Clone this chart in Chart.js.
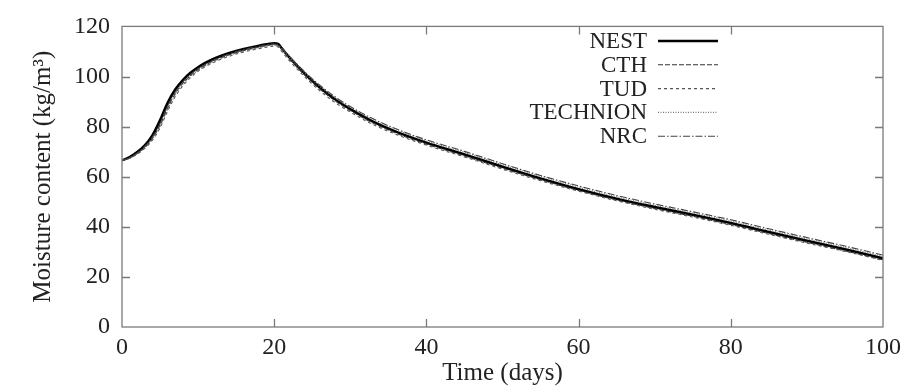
<!DOCTYPE html>
<html>
<head>
<meta charset="utf-8">
<script src="https://cdn.jsdelivr.net/npm/chart.js@4.4.1/dist/chart.umd.min.js"></script>
<style>
  html, body { margin: 0; padding: 0; background: #fff; }
  #wrap { width: 916px; height: 388px; }
</style>
</head>
<body>
<div id="wrap"><canvas id="c" width="916" height="388"></canvas></div>
<script>
// Time axis (days)
const days = [0,1,2,3,4,5,6,7,8,9,10,11,12,14,16,18,20,20.5,21,22,24,26,28,30,33,36,40,45,50,55,60,65,70,75,80,85,90,95,100];

// Moisture content (kg/m3) per model
const nest     = [66.5,67.8,69.8,72.5,76.5,82.5,89.5,94.8,98.6,101.5,103.7,105.5,107.0,109.3,111.0,112.3,113.3,113.0,111.2,107.6,101.2,95.6,90.9,87.0,82.0,78.0,73.6,68.9,64.0,59.3,55.0,51.2,47.9,44.8,41.5,37.9,34.4,31.0,27.4];
const cth      = [66.5,67.5,69.3,71.8,75.3,80.6,87.5,93.2,97.3,100.4,102.8,104.6,106.2,108.6,110.4,111.7,112.7,112.4,110.7,107.0,100.6,95.0,90.3,86.4,81.4,77.4,73.0,68.3,63.4,58.8,54.5,50.7,47.3,44.2,40.9,37.3,33.8,30.4,26.8];
const tud      = [66.5,67.3,69.0,71.3,74.6,79.5,86.2,92.0,96.3,99.6,102.1,104.0,105.6,108.0,109.8,111.1,112.1,111.8,110.0,106.3,99.9,94.3,89.6,85.8,80.8,76.9,72.6,67.9,63.0,58.4,54.2,50.4,47.0,43.9,40.6,37.0,33.5,30.2,26.6];
const technion = [66.5,67.4,69.2,71.6,75.0,80.0,86.8,92.6,96.8,100.0,102.4,104.3,105.9,108.3,110.2,111.5,112.5,112.3,110.8,107.6,101.5,96.1,91.5,87.6,82.7,78.7,74.3,69.7,64.8,60.1,55.8,52.0,48.6,45.5,42.3,38.7,35.2,31.8,28.2];
const nrc      = [66.5,67.6,69.5,72.1,75.8,81.2,88.2,93.8,97.8,100.8,103.1,104.9,106.5,108.9,110.7,112.0,113.0,112.8,111.3,108.0,101.9,96.5,91.9,88.0,83.1,79.1,74.7,70.1,65.2,60.5,56.3,52.5,49.1,46.0,42.8,39.2,35.7,32.3,28.7];

const xTicks = [0,20,40,60,80,100];
const yTicks = [0,20,40,60,80,100,120];

const FONT = "'Liberation Serif', 'Times New Roman', serif";
const TEXT = '#222';
const AXIS = '#7a7a7a';

const toXY = ys => days.map((d, i) => ({ x: d, y: ys[i] }));

const series = [
  { label: 'NEST',     data: nest,     color: '#000', width: 2.6, dash: [] },
  { label: 'CTH',      data: cth,      color: '#333', width: 1.1, dash: [5, 2] },
  { label: 'TUD',      data: tud,      color: '#555', width: 1.1, dash: [3, 3] },
  { label: 'TECHNION', data: technion, color: '#777', width: 1.1, dash: [1, 1.5] },
  { label: 'NRC',      data: nrc,      color: '#444', width: 1.1, dash: [7, 2, 1.5, 2] }
];

// Box around the plot with inward ticks on all four sides
const frame = {
  id: 'frame',
  afterDatasetsDraw(chart) {
    const { ctx, chartArea: a, scales: { x, y } } = chart;
    const len = 8;
    ctx.save();
    ctx.strokeStyle = AXIS;
    ctx.lineWidth = 1.3;
    ctx.strokeRect(a.left, a.top, a.right - a.left, a.bottom - a.top);
    ctx.beginPath();
    xTicks.slice(1, -1).forEach(v => {
      const px = Math.round(x.getPixelForValue(v)) + 0.5;
      ctx.moveTo(px, a.bottom); ctx.lineTo(px, a.bottom - len);
      ctx.moveTo(px, a.top);    ctx.lineTo(px, a.top + len);
    });
    yTicks.slice(1, -1).forEach(v => {
      const py = Math.round(y.getPixelForValue(v)) + 0.5;
      ctx.moveTo(a.left, py);  ctx.lineTo(a.left + len, py);
      ctx.moveTo(a.right, py); ctx.lineTo(a.right - len, py);
    });
    ctx.stroke();
    ctx.restore();
  }
};

// Key in the upper right: label right-aligned, line sample to its right
const key = {
  id: 'key',
  afterDatasetsDraw(chart) {
    const { ctx } = chart;
    const textRight = 647, lineL = 658, lineR = 718, top = 41, step = 23.8;
    ctx.save();
    ctx.font = '23px ' + FONT;
    ctx.fillStyle = TEXT;
    ctx.textAlign = 'right';
    ctx.textBaseline = 'middle';
    series.forEach((s, i) => {
      const ds = chart.data.datasets.find(d => d.label === s.label);
      const yy = top + i * step;
      ctx.fillText(ds.label, textRight, yy + 1);
      ctx.beginPath();
      ctx.strokeStyle = ds.borderColor;
      ctx.lineWidth = ds.borderWidth;
      ctx.setLineDash(ds.borderDash || []);
      ctx.moveTo(lineL, yy);
      ctx.lineTo(lineR, yy);
      ctx.stroke();
    });
    ctx.restore();
  }
};

new Chart(document.getElementById('c'), {
  type: 'line',
  data: {
    // thin model curves first, NEST drawn last so it sits on top
    datasets: series.slice().reverse().map(s => ({
      label: s.label,
      data: toXY(s.data),
      borderColor: s.color,
      borderWidth: s.width,
      borderDash: s.dash,
      pointRadius: 0,
      fill: false,
      cubicInterpolationMode: 'monotone'
    }))
  },
  options: {
    responsive: false,
    animation: false,
    layout: { padding: { top: 20, right: 33, left: 0, bottom: 0 } },
    plugins: { legend: { display: false }, tooltip: { enabled: false } },
    scales: {
      x: {
        type: 'linear',
        min: 0, max: 100,
        afterBuildTicks: s => { s.ticks = xTicks.map(v => ({ value: v })); },
        afterFit: s => { s.height = 61; },
        grid: { display: false, drawTicks: false },
        border: { display: false },
        ticks: { color: TEXT, padding: 6, font: { family: FONT, size: 24 } },
        title: { display: true, text: 'Time (days)', color: TEXT, padding: { top: 0, bottom: 0 }, font: { family: FONT, size: 25 } }
      },
      y: {
        min: 0, max: 120,
        afterBuildTicks: s => { s.ticks = yTicks.map(v => ({ value: v })); },
        afterFit: s => { s.width = 122; },
        grid: { display: false, drawTicks: false },
        border: { display: false },
        ticks: { color: TEXT, padding: 12, font: { family: FONT, size: 24 } },
        title: { display: true, text: 'Moisture content (kg/m³)', color: TEXT, padding: { top: 28, bottom: 0 }, font: { family: FONT, size: 25 } }
      }
    }
  },
  plugins: [frame, key]
});
</script>
</body>
</html>
